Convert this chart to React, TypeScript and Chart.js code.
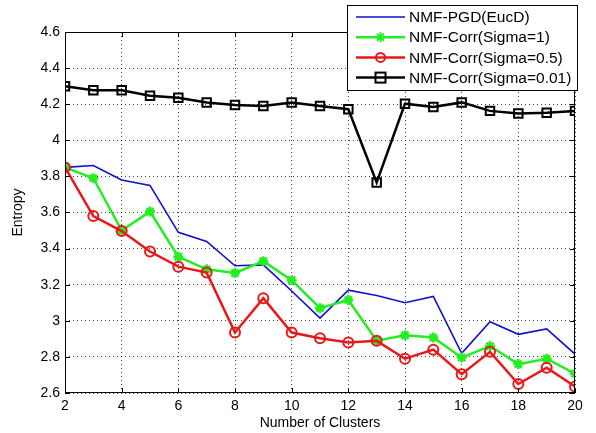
import React, { useEffect, useRef } from 'react';
import { Chart, registerables } from 'chart.js';
Chart.register(...registerables);

const clusters = [2, 3, 4, 5, 6, 7, 8, 9, 10, 11, 12, 13, 14, 15, 16, 17, 18, 19, 20];
const pgdEucD = [3.85, 3.86, 3.78, 3.75, 3.49, 3.44, 3.305, 3.31, 3.165, 3.015, 3.17, 3.14, 3.10, 3.135, 2.82, 2.995, 2.925, 2.955, 2.815];
const corrSigma1 = [3.85, 3.79, 3.50, 3.605, 3.355, 3.285, 3.265, 3.33, 3.225, 3.07, 3.115, 2.89, 2.92, 2.907, 2.796, 2.86, 2.76, 2.79, 2.707];
const corrSigma05 = [3.85, 3.58, 3.497, 3.384, 3.30, 3.267, 2.935, 3.125, 2.935, 2.903, 2.88, 2.889, 2.79, 2.84, 2.704, 2.828, 2.65, 2.74, 2.636];
const corrSigma001 = [4.30, 4.277, 4.277, 4.247, 4.236, 4.21, 4.196, 4.19, 4.21, 4.19, 4.172, 3.766, 4.203, 4.185, 4.21, 4.163, 4.148, 4.153, 4.163];
const xTicks = [2, 4, 6, 8, 10, 12, 14, 16, 18, 20];
const yTicks = [2.6, 2.8, 3.0, 3.2, 3.4, 3.6, 3.8, 4.0, 4.2, 4.4, 4.6];
const seriesNames = ['NMF-PGD(EucD)', 'NMF-Corr(Sigma=1)', 'NMF-Corr(Sigma=0.5)', 'NMF-Corr(Sigma=0.01)'];

const FONT = '"Liberation Sans", Arial, sans-serif';
const BLUE = '#1010d0';
const GREEN = '#22ee22';
const RED = '#e81818';
const BLACK = '#000000';

function drawMarker(ctx: CanvasRenderingContext2D, style: string, x: number, y: number, color: string) {
  ctx.save();
  ctx.strokeStyle = color;
  ctx.lineWidth = 2;
  ctx.setLineDash([]);
  ctx.beginPath();
  if (style === 'circle') {
    ctx.arc(x, y, 4.5, 0, Math.PI * 2);
    ctx.stroke();
  } else if (style === 'rect') {
    ctx.strokeRect(x - 5, y - 5, 10, 10);
  } else if (style === 'star') {
    const r = 5;
    for (let i = 0; i < 4; i++) {
      const a = (i * Math.PI) / 4;
      ctx.moveTo(x - r * Math.cos(a), y - r * Math.sin(a));
      ctx.lineTo(x + r * Math.cos(a), y + r * Math.sin(a));
    }
    ctx.stroke();
  }
  ctx.restore();
}

const framePlugin = {
  id: 'matlabFrame',
  afterDraw(chart: any) {
    const { ctx, chartArea } = chart;
    const { left, right, top, bottom } = chartArea;
    ctx.save();
    ctx.strokeStyle = '#000';
    ctx.lineWidth = 1;
    ctx.setLineDash([]);
    ctx.strokeRect(left + 0.5, top + 0.5, right - left - 1, bottom - top - 1);
    const xs = chart.scales.x;
    const ys = chart.scales.y;
    ctx.beginPath();
    xTicks.forEach((v) => {
      const px = Math.round(xs.getPixelForValue(v)) + 0.5;
      ctx.moveTo(px, bottom);
      ctx.lineTo(px, bottom - 5);
      ctx.moveTo(px, top);
      ctx.lineTo(px, top + 5);
    });
    yTicks.forEach((v) => {
      const py = Math.round(ys.getPixelForValue(v)) + 0.5;
      ctx.moveTo(left, py);
      ctx.lineTo(left + 5, py);
      ctx.moveTo(right, py);
      ctx.lineTo(right - 5, py);
    });
    ctx.stroke();

    // axis titles
    ctx.fillStyle = '#000';
    ctx.font = `14px ${FONT}`;
    ctx.textAlign = 'center';
    ctx.textBaseline = 'middle';
    ctx.fillText('Number of Clusters', (left + right) / 2, 423);
    ctx.save();
    ctx.translate(18, (top + bottom) / 2);
    ctx.rotate(-Math.PI / 2);
    ctx.fillText('Entropy', 0, 0);
    ctx.restore();

    // legend
    const lx = 347, ly = 5, lw = 230, lh = 85;
    ctx.fillStyle = '#fff';
    ctx.fillRect(lx, ly, lw, lh);
    ctx.strokeStyle = '#000';
    ctx.lineWidth = 1;
    ctx.strokeRect(lx + 0.5, ly + 0.5, lw, lh);
    const ds = chart.data.datasets;
    ds.forEach((d: any, i: number) => {
      const y = 17 + i * 20.2;
      ctx.strokeStyle = d.borderColor;
      ctx.lineWidth = d.borderWidth;
      ctx.beginPath();
      ctx.moveTo(356, y);
      ctx.lineTo(405, y);
      ctx.stroke();
      if (d.pointRadius > 0) drawMarker(ctx, d.pointStyle, 380.5, y, d.borderColor);
      ctx.fillStyle = '#000';
      ctx.font = `15.5px ${FONT}`;
      ctx.textAlign = 'left';
      ctx.textBaseline = 'middle';
      ctx.fillText(d.label, 409, y + 1);
    });
    ctx.restore();
  },
};

export default function App() {
  const ref = useRef<HTMLCanvasElement>(null);
  useEffect(() => {
    if (!ref.current) return;
    const mk = (vals: number[]) => clusters.map((c, i) => ({ x: c, y: vals[i] }));
    const chart = new Chart(ref.current, {
      type: 'line',
      data: {
        datasets: [
          { label: seriesNames[0], order: 4, data: mk(pgdEucD), borderColor: BLUE, borderWidth: 1.6, pointRadius: 0, pointStyle: 'circle', tension: 0, fill: false },
          { label: seriesNames[1], order: 3, data: mk(corrSigma1), borderColor: GREEN, backgroundColor: GREEN, borderWidth: 2.5, pointRadius: 5, pointBorderWidth: 2.5, pointStyle: 'star', tension: 0, fill: false },
          { label: seriesNames[2], order: 2, data: mk(corrSigma05), borderColor: RED, backgroundColor: 'rgba(0,0,0,0)', borderWidth: 2.5, pointRadius: 5, pointBorderWidth: 2, pointStyle: 'circle', tension: 0, fill: false },
          { label: seriesNames[3], order: 1, data: mk(corrSigma001), borderColor: BLACK, backgroundColor: 'rgba(0,0,0,0)', borderWidth: 2.5, pointRadius: 6, pointBorderWidth: 2, pointStyle: 'rect', tension: 0, fill: false },
        ] as any,
      },
      options: {
        responsive: false,
        animation: false,
        layout: { padding: { top: 32, right: 21, left: 0, bottom: 0 } },
        plugins: { legend: { display: false }, tooltip: { enabled: false } },
        scales: {
          x: {
            type: 'linear',
            min: 2,
            max: 20,
            afterFit: (s: any) => { s.height = 40; },
            afterBuildTicks: (s: any) => { s.ticks = xTicks.map((v) => ({ value: v })); },
            grid: { color: 'rgba(0,0,0,0.75)', lineWidth: 1, tickLength: 0, drawTicks: false },
            border: { display: false, dash: [1, 3] },
            ticks: { color: '#000', font: { family: FONT, size: 14 }, padding: 5, maxRotation: 0, callback: (v: any) => String(v) },
          },
          y: {
            type: 'linear',
            min: 2.6,
            max: 4.6,
            afterFit: (s: any) => { s.width = 65; },
            afterBuildTicks: (s: any) => { s.ticks = yTicks.map((v) => ({ value: v })); },
            grid: { color: 'rgba(0,0,0,0.75)', lineWidth: 1, tickLength: 0, drawTicks: false },
            border: { display: false, dash: [1, 3] },
            ticks: { color: '#000', font: { family: FONT, size: 14 }, padding: 5, callback: (v: any) => String(Number(Number(v).toFixed(1))) },
          },
        },
      } as any,
      plugins: [framePlugin],
    });
    return () => chart.destroy();
  }, []);
  return (
    <div style={{ position: 'absolute', left: 0, top: 0, width: 596, height: 433, background: '#fff' }}>
      <canvas ref={ref} width={596} height={433} />
    </div>
  );
}
